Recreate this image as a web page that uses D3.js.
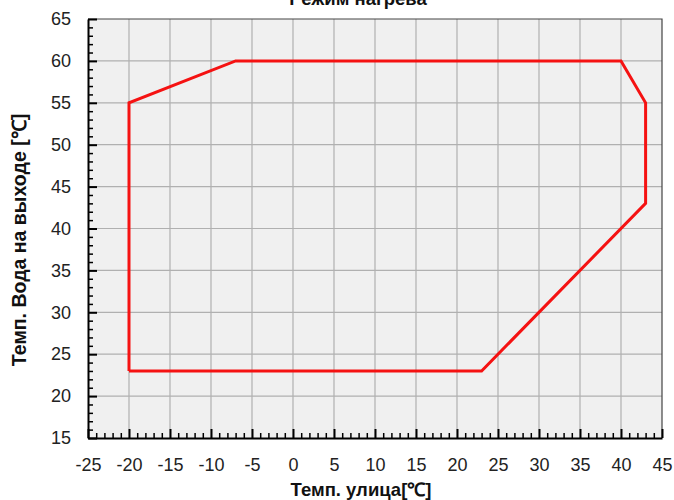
<!DOCTYPE html>
<html>
<head>
<meta charset="utf-8">
<script src="https://cdn.jsdelivr.net/npm/d3@7"></script>
<style>
  body { margin: 0; background: #fff; }
  svg { display: block; font-family: "Liberation Sans", Arial, sans-serif; }
</style>
</head>
<body>
<div id="chart"></div>
<script>
// Operating envelope, heating mode

const width = 674, height = 500;
const margin = { top: 19, right: 12, bottom: 62, left: 88 };

// polygon vertices (outside temp, water outlet temp)
const outsideTemp = [-20, -20, -7, 40, 43, 43, 23, -20];
const waterTemp = [23, 55, 60, 60, 55, 43, 23, 23];

const xDomain = [-25, 45];
const yDomain = [15, 65];
const xTicks = d3.range(-25, 46, 5);
const yTicks = d3.range(15, 66, 5);

const title = "Режим нагрева";
const xTitle = "Темп. улица[℃]";
const yTitle = "Темп. Вода на выходе [℃]";

const svg = d3.select("#chart")
  .append("svg")
  .attr("width", width)
  .attr("height", height);

const x = d3.scaleLinear().domain(xDomain).range([margin.left, width - margin.right]);
const y = d3.scaleLinear().domain(yDomain).range([height - margin.bottom, margin.top]);

// plot background
svg.append("rect")
  .attr("x", x(xDomain[0]))
  .attr("y", y(yDomain[1]))
  .attr("width", x(xDomain[1]) - x(xDomain[0]))
  .attr("height", y(yDomain[0]) - y(yDomain[1]))
  .attr("fill", "#f0f0f0");

// grid
svg.append("g")
  .selectAll("line")
  .data(xTicks.slice(1, -1))
  .join("line")
  .attr("x1", d => x(d)).attr("x2", d => x(d))
  .attr("y1", y(yDomain[0])).attr("y2", y(yDomain[1]))
  .attr("stroke", "#b0b0b0")
  .attr("stroke-width", 1.2);

svg.append("g")
  .selectAll("line")
  .data(yTicks.slice(1, -1))
  .join("line")
  .attr("y1", d => y(d)).attr("y2", d => y(d))
  .attr("x1", x(xDomain[0])).attr("x2", x(xDomain[1]))
  .attr("stroke", "#b0b0b0")
  .attr("stroke-width", 1.2);

// top and right border
svg.append("path")
  .attr("d", `M${x(xDomain[0])},${y(yDomain[1])}H${x(xDomain[1])}V${y(yDomain[0])}`)
  .attr("fill", "none")
  .attr("stroke", "#444")
  .attr("stroke-width", 1.2);

// minor ticks (inward)
const minorX = d3.range(-25, 46, 1).filter(d => d % 5 !== 0);
const minorY = d3.range(15, 66, 1).filter(d => d % 5 !== 0);

svg.append("g")
  .attr("transform", `translate(0,${y(yDomain[0])})`)
  .call(d3.axisTop(x).tickValues(minorX).tickSize(5).tickFormat(""))
  .call(g => g.select(".domain").remove())
  .selectAll("line").attr("stroke", "#000").attr("stroke-width", 1.5);

svg.append("g")
  .attr("transform", `translate(${x(xDomain[0])},0)`)
  .call(d3.axisRight(y).tickValues(minorY).tickSize(5).tickFormat(""))
  .call(g => g.select(".domain").remove())
  .selectAll("line").attr("stroke", "#000").attr("stroke-width", 1.5);

// major ticks + labels (plain hyphen for negatives)
const fmt = d => String(d);

const xAxis = svg.append("g")
  .attr("transform", `translate(0,${y(yDomain[0])})`)
  .call(d3.axisBottom(x).tickValues(xTicks).tickSize(0).tickPadding(20).tickFormat(fmt));
xAxis.select(".domain").attr("stroke", "#000").attr("stroke-width", 2);
xAxis.selectAll("text")
  .attr("font-size", 18)
  .attr("fill", "#222")
  .attr("font-family", "Liberation Sans, Arial, sans-serif");
svg.append("g")
  .attr("transform", `translate(0,${y(yDomain[0])})`)
  .call(d3.axisTop(x).tickValues(xTicks).tickSize(9).tickFormat(""))
  .call(g => g.select(".domain").remove())
  .selectAll("line").attr("stroke", "#000").attr("stroke-width", 2);

const yAxis = svg.append("g")
  .attr("transform", `translate(${x(xDomain[0])},0)`)
  .call(d3.axisLeft(y).tickValues(yTicks).tickSize(0).tickPadding(17).tickFormat(fmt));
yAxis.select(".domain").attr("stroke", "#000").attr("stroke-width", 2);
yAxis.selectAll("text")
  .attr("font-size", 18)
  .attr("fill", "#222")
  .attr("font-family", "Liberation Sans, Arial, sans-serif");
svg.append("g")
  .attr("transform", `translate(${x(xDomain[0])},0)`)
  .call(d3.axisRight(y).tickValues(yTicks).tickSize(9).tickFormat(""))
  .call(g => g.select(".domain").remove())
  .selectAll("line").attr("stroke", "#000").attr("stroke-width", 2);

// envelope
const line = d3.line()
  .x(d => x(d[0]))
  .y(d => y(d[1]));

svg.append("path")
  .datum(d3.zip(outsideTemp, waterTemp))
  .attr("d", line)
  .attr("fill", "none")
  .attr("stroke", "#f51212")
  .attr("stroke-width", 3)
  .attr("stroke-linejoin", "miter");

// titles (chart title sits partly above the top edge, as in the source image)
svg.append("text")
  .attr("x", 358)
  .attr("y", 5)
  .attr("text-anchor", "middle")
  .attr("font-weight", "bold")
  .attr("font-size", 18.5)
  .attr("fill", "#111")
  .text(title);

svg.append("text")
  .attr("x", 361)
  .attr("y", 496)
  .attr("text-anchor", "middle")
  .attr("font-weight", "bold")
  .attr("font-size", 18.5)
  .attr("fill", "#111")
  .text(xTitle);

svg.append("text")
  .attr("transform", "translate(26,240) rotate(-90)")
  .attr("text-anchor", "middle")
  .attr("font-weight", "bold")
  .attr("font-size", 19.5)
  .attr("fill", "#111")
  .text(yTitle);
</script>
</body>
</html>
